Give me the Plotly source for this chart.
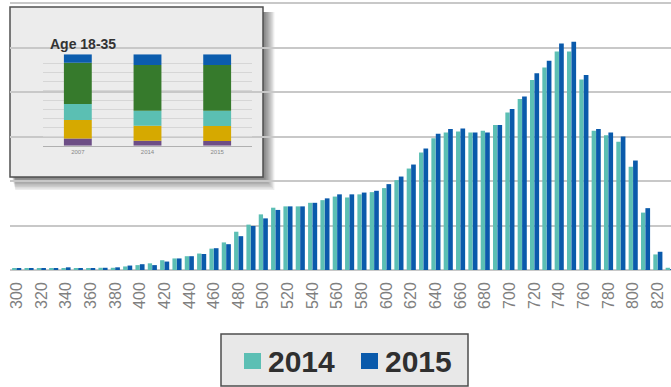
import plotly.graph_objects as go

# ---------------- data ----------------
scores = list(range(300, 840, 10))
v2014 = [0.03, 0.03, 0.03, 0.03, 0.04, 0.03, 0.04, 0.05, 0.05, 0.08,
         0.11, 0.15, 0.22, 0.26, 0.31, 0.37, 0.48, 0.62, 0.86, 1.02,
         1.25, 1.40, 1.43, 1.43, 1.51, 1.57, 1.65, 1.63, 1.70, 1.75,
         1.84, 2.02, 2.28, 2.64, 2.96, 3.09, 3.11, 3.09, 3.13, 3.26,
         3.54, 3.84, 4.27, 4.55, 4.91, 4.91, 4.28, 3.13, 3.03, 2.88,
         2.32, 1.29, 0.35, 0.05]
v2015 = [0.03, 0.03, 0.03, 0.03, 0.06, 0.03, 0.04, 0.05, 0.06, 0.10,
         0.13, 0.11, 0.19, 0.26, 0.31, 0.36, 0.49, 0.58, 0.76, 0.99,
         1.16, 1.35, 1.43, 1.43, 1.51, 1.61, 1.70, 1.70, 1.74, 1.78,
         1.93, 2.10, 2.37, 2.73, 3.06, 3.17, 3.18, 3.09, 3.09, 3.26,
         3.62, 3.90, 4.42, 4.70, 5.09, 5.13, 4.38, 3.17, 3.09, 3.00,
         2.46, 1.39, 0.41, 0.02]
tick_vals = list(range(300, 821, 20))
tick_labels = [str(t) for t in tick_vals]

inset_title = "Age 18-35"
inset_years = ["2007", "2014", "2015"]
inset_purple = [8.0, 5.5, 5.1]
inset_gold = [20.0, 16.4, 16.4]
inset_teal = [17.5, 16.4, 16.8]
inset_green = [45.3, 50.0, 50.0]
inset_blue = [9.2, 11.7, 11.7]

# ---------------- style ----------------
TEAL = "#5cbfb4"
BLUE = "#0a5aab"
FONT = "Liberation Sans, Arial, sans-serif"
W, H = 671, 387
ML, MB = 10, 117
PLOT_W, PLOT_H = W - ML, H - MB

def px2paper_x(px):
    return (px - ML) / PLOT_W

def py2paper_y(py):
    return (PLOT_H - py) / PLOT_H

# inset axis area in pixels
IX0, IX1 = 43, 252
IY_TOP, IY_BOT = 54.3, 145.7

def fx(px):
    return (px - IX0) / (IX1 - IX0)

def fy(py):
    return (IY_BOT - py) / (IY_BOT - IY_TOP)

fig = go.Figure()

fig.add_trace(go.Bar(x=scores, y=v2014, name="2014", marker_color=TEAL,
                     width=3.5, offset=-3.7, marker_line_width=0,
                     xaxis="x", yaxis="y"))
fig.add_trace(go.Bar(x=scores, y=v2015, name="2015", marker_color=BLUE,
                     width=3.8, offset=-0.1, marker_line_width=0,
                     xaxis="x", yaxis="y"))

# inset stacked bars
segs = [(inset_purple, "#6d4e86"), (inset_gold, "#d6a900"),
        (inset_teal, "#5bbfb3"), (inset_green, "#367a2c"),
        (inset_blue, "#0b5cad")]
base = [0.0, 0.0, 0.0]
for vals, col in segs:
    fig.add_trace(go.Bar(x=[0, 1, 2], y=vals, base=list(base),
                         marker_color=col, marker_line_width=0,
                         width=0.4, offset=-0.2, xaxis="x2", yaxis="y2",
                         showlegend=False))
    base = [b + v for b, v in zip(base, vals)]

shapes = []
# shadow of the inset frame
for i in range(9):
    shapes.append(dict(type="rect", xref="x2 domain", yref="y2 domain",
                       x0=fx(12 + 0.4 * i), x1=fx(264 + 1.3 * i),
                       y0=fy(178 + 1.5 * i), y1=fy(12),
                       fillcolor="black", opacity=0.07, line_width=0,
                       layer="below"))
# inset frame
shapes.append(dict(type="rect", xref="x2 domain", yref="y2 domain",
                   x0=fx(10), x1=fx(263), y0=fy(177), y1=fy(7),
                   fillcolor="#ececec", line=dict(color="#505050", width=1.5),
                   layer="below"))

# legend box (drawn manually)
shapes.append(dict(type="rect", xref="paper", yref="paper",
                   x0=px2paper_x(221), x1=px2paper_x(468),
                   y0=py2paper_y(386), y1=py2paper_y(334),
                   fillcolor="#e8e8e8", line=dict(color="#4d4d4d", width=1.5)))
shapes.append(dict(type="rect", xref="paper", yref="paper",
                   x0=px2paper_x(244), x1=px2paper_x(261),
                   y0=py2paper_y(369), y1=py2paper_y(353),
                   fillcolor=TEAL, line_width=0))
shapes.append(dict(type="rect", xref="paper", yref="paper",
                   x0=px2paper_x(361), x1=px2paper_x(378),
                   y0=py2paper_y(369), y1=py2paper_y(353),
                   fillcolor=BLUE, line_width=0))

annotations = [
    dict(text="<b>" + inset_title + "</b>", xref="paper", yref="paper",
         x=px2paper_x(48), y=py2paper_y(44), xanchor="left", yanchor="middle",
         showarrow=False, font=dict(family=FONT, size=14, color="#333333")),
    dict(text="<b>2014</b>", xref="paper", yref="paper",
         x=px2paper_x(266), y=py2paper_y(361), xanchor="left", yanchor="middle",
         showarrow=False, font=dict(family=FONT, size=30, color="#2f2f2f")),
    dict(text="<b>2015</b>", xref="paper", yref="paper",
         x=px2paper_x(383), y=py2paper_y(361), xanchor="left", yanchor="middle",
         showarrow=False, font=dict(family=FONT, size=30, color="#2f2f2f")),
]

UNIT_PX = 44.5
fig.update_layout(
    width=W, height=H,
    margin=dict(l=ML, r=0, t=0, b=MB, pad=0),
    paper_bgcolor="white", plot_bgcolor="rgba(0,0,0,0)",
    barmode="overlay", showlegend=False,
    font=dict(family=FONT),
    xaxis=dict(range=[300 - (16.7 - ML) / 1.233, 300 - (16.7 - ML) / 1.233 + PLOT_W / 1.233],
               tickmode="array", tickvals=tick_vals, ticktext=tick_labels,
               tickangle=-90, tickfont=dict(family=FONT, size=16, color="#808080"),
               showgrid=False, zeroline=False, showline=False, ticks="",
               ticklabelstandoff=8, fixedrange=True),
    yaxis=dict(range=[0, PLOT_H / UNIT_PX], dtick=1, tick0=0,
               showgrid=True, gridcolor="#c8c8c8", gridwidth=1.5,
               zeroline=True, zerolinecolor="#c8c8c8", zerolinewidth=1.5,
               showticklabels=False, showline=False, ticks=""),
    xaxis2=dict(domain=[px2paper_x(IX0), px2paper_x(IX1)], anchor="y2",
                range=[-0.5, 2.5], tickmode="array", tickvals=[0, 1, 2],
                ticktext=inset_years, tickfont=dict(family=FONT, size=6, color="#888888"),
                showgrid=False, zeroline=False, showline=True,
                linecolor="#b0b0b0", linewidth=1, ticks=""),
    yaxis2=dict(domain=[py2paper_y(IY_BOT), py2paper_y(IY_TOP)], anchor="x2",
                range=[0, 100], dtick=10, showgrid=True, gridcolor="#d6d6d6",
                gridwidth=1, zeroline=False, showticklabels=False, ticks=""),
    shapes=shapes, annotations=annotations,
)

fig.write_html("out.html")
